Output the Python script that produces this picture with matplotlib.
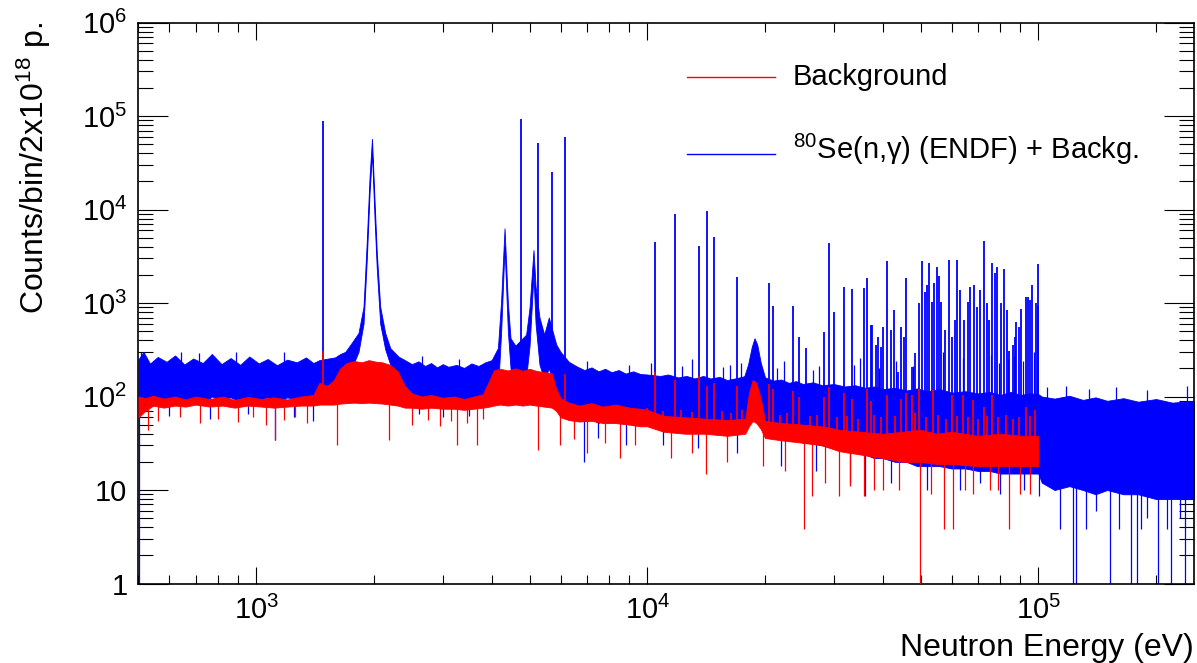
import matplotlib
matplotlib.use('Agg')
import matplotlib.pyplot as plt
import matplotlib.ticker as mticker
import numpy as np

plt.rcParams['font.family'] = ['Liberation Sans', 'DejaVu Sans']
plt.rcParams['mathtext.fontset'] = 'custom'
plt.rcParams['mathtext.rm'] = 'Liberation Sans'
plt.rcParams['mathtext.it'] = 'Liberation Sans:italic'
plt.rcParams['mathtext.bf'] = 'Liberation Sans:bold'

# --- 80Se(n,g) + background: envelope of the noisy band (eV, counts) ---
tot_e = [500, 515, 535, 560, 590, 620, 655, 690, 730, 770, 815, 860, 910, 960,
         1015, 1070, 1130, 1200, 1270, 1340, 1400, 1450, 1530, 1590, 1640, 1689,
         1753, 1826, 1881, 1918, 1949, 1977, 2007, 2034, 2075, 2137, 2201, 2312,
         2400, 2500, 2600, 2700, 2800, 2900, 3000, 3100, 3250, 3400, 3550, 3700,
         3850, 4000, 4150, 4230, 4315, 4400, 4470, 4600, 4900, 5000, 5117, 5180,
         5300, 5450, 5600, 5850, 6000, 6300, 6600, 6900, 7200, 7500, 7800, 8100,
         8450, 8800, 9200, 9600, 10000, 10800, 11300, 12000, 12600, 13200, 13900,
         14500, 15300, 16000, 17000, 17700, 18100, 18500, 18800, 19100, 19500,
         20000, 21000, 22000, 23000, 24000, 25000, 26500, 28000, 30000, 32000,
         34000, 36000, 38000, 40000, 43000, 46000, 49000, 52000, 56000, 60000,
         65000, 70000, 75000, 80000, 85000, 90000, 95000, 100000, 102000, 110000,
         120000, 130000, 140000, 150000, 165000, 180000, 200000, 220000, 250000]
tot_hi = [250, 300, 225, 265, 235, 275, 220, 255, 228, 285, 222, 258, 218, 268,
          226, 252, 216, 248, 232, 262, 228, 245, 255, 262, 285, 300,
          373, 478, 912, 4720, 22400, 57000, 12600, 3430, 912, 478, 330, 267,
          245, 222, 238, 212, 228, 205, 222, 208, 218, 202, 226, 212,
          232, 245, 330, 1080, 6300, 1000, 420, 350, 460, 900, 3690, 1500,
          700, 460, 700, 360, 300, 235, 210, 192, 205, 186, 198, 182,
          192, 176, 186, 174, 172, 166, 172, 160, 166, 156, 166,
          156, 162, 150, 158, 165, 220, 340, 420, 360, 230,
          160, 148, 152, 140, 146, 136, 142, 132, 136, 128,
          132, 124, 128, 120, 124, 116, 122, 114, 120, 110,
          114, 108, 112, 104, 112, 104, 108, 106, 100, 95,
          102, 92, 98, 90, 96, 88, 94, 86, 90]
tot_lo = [60, 75, 85, 95, 90, 100, 92, 98, 88, 100, 92, 98, 88, 100,
          92, 98, 88, 98, 92, 98, 96, 100, 110, 118, 135, 150,
          200, 300, 600, 3000, 15000, 40000, 8000, 2300, 600, 320, 220, 140,
          110, 100, 95, 92, 92, 88, 92, 88, 92, 86, 92, 88,
          92, 98, 115, 500, 4000, 500, 200, 130, 160, 350, 2000, 600,
          220, 150, 200, 110, 85, 65, 60, 55, 58, 52, 58, 55,
          55, 52, 50, 52, 50, 48, 48, 45, 46, 44, 45,
          44, 44, 42, 44, 45, 60, 100, 150, 110, 60,
          42, 38, 38, 35, 35, 32, 32, 30, 28, 26,
          25, 24, 22, 22, 20, 20, 18, 18, 18, 17,
          17, 16, 16, 15, 15, 15, 15, 15, 12, 10,
          11, 10, 9, 10, 9, 9, 8, 8, 8]

# narrow resonances of the total spectrum
res_e = [1483, 4740, 5240, 5700, 6150, 10470, 11800, 13530, 14200, 14820,
         16950, 20500, 20960, 23530, 24500, 25400, 28300, 29200, 30100, 31900,
         33300, 35900, 36400, 37300, 37600, 38400, 38900, 39600, 40100, 41100,
         42100, 42800, 43700, 44600, 45300, 45900, 47400, 48300, 49400, 50300,
         51200, 51900, 52400, 53400, 54200, 55000, 55800, 56500, 57600, 59100,
         60100, 61100, 62100, 63000, 64500, 66100, 67000, 68500, 69600, 70800,
         72600, 73700, 74700, 76200, 77500, 78200, 80300, 81700, 83100, 84300,
         85900, 87000, 87900, 89300, 90300, 92800, 93900, 95100, 96200, 98700,
         99700, 100000]
res_peak = [89000, 92000, 51000, 25400, 60100, 4530, 8900, 4080, 9700, 5050,
            1910, 1640, 930, 930, 437, 334, 490, 4420, 800, 1480,
            1430, 1450, 1870, 580, 580, 356, 430, 341, 550, 2840,
            514, 840, 184, 550, 437, 1870, 208, 290, 1000, 2840,
            1300, 1560, 2660, 1030, 1630, 2440, 1960, 1030, 514, 2890,
            437, 658, 2920, 1380, 658, 1030, 1490, 1540, 912, 1390,
            4650, 1000, 658, 2660, 2080, 2420, 993, 2340, 842, 305,
            360, 437, 625, 558, 860, 1170, 1150, 1077, 1540, 993,
            930, 2610]

# single-bin upward fluctuations of the total band
tot_up_e = [508, 643, 716, 886, 1175, 2650, 3300, 7000, 9000,
            10200, 12300, 13000, 15600, 16300, 17400, 21500, 22300, 26500,
            27500, 33800, 35000, 39200, 43300, 47900, 57000, 64000, 75500,
            79500, 83800, 86500, 91500, 97500,
            105000, 118000, 135000, 158000, 190000, 240000]
tot_up_v = [300, 300, 290, 300, 300, 270, 255, 240, 215,
            230, 210, 250, 205, 215, 230, 200, 240, 190,
            210, 220, 260, 200, 240, 210, 300, 260, 280,
            230, 250, 270, 240, 300,
            125, 130, 120, 125, 118, 128]

# downward fluctuations of the total band
tot_dip_e = [501, 600, 760, 950, 1114, 1250, 1400, 2600, 3000, 3500, 6900,
             7500, 8800, 11000, 13500, 17000, 22000, 27000, 33000, 36000,
             42000, 52000, 63000, 71000, 80000, 92000, 100500, 113800, 122700,
             124900, 132500, 140000, 152600, 160900, 173000, 178700, 183400,
             190000, 202000, 213500, 218000, 230000, 237600]
tot_dip_v = [0.5, 62, 58, 65, 34, 60, 55, 65, 60, 62, 20,
             36, 30, 30, 28, 25, 18, 16, 12, 8.6,
             12, 10, 10, 12, 9, 10, 8.6, 3.8, 0.5,
             0.5, 3.8, 6, 0.5, 3.8, 0.5, 0.5, 3.8,
             5, 0.5, 3.8, 0.5, 5, 0.5]

# --- background only ---
bkg_e = [500, 520, 545, 580, 620, 660, 700, 760, 820, 880, 950, 1030, 1110,
         1200, 1300, 1400, 1450, 1520, 1580, 1640, 1700, 1780, 1860, 1940, 2020,
         2100, 2200, 2300, 2400, 2500, 2650, 2800, 3000, 3200, 3400, 3600, 3800,
         3950, 4050, 4200, 4400, 4600, 4800, 5000, 5200, 5450, 5700, 5850, 6000,
         6300, 6700, 7200, 7700, 8300, 9000, 9600, 10000, 11000, 12500, 14000,
         16000, 17800, 18200, 18600, 19000, 19500, 20000, 22000, 25000, 28000,
         31000, 35000, 40000, 45000, 50000, 55000, 60000, 70000, 80000, 90000,
         100000]
bkg_hi = [100, 96, 102, 95, 100, 93, 100, 94, 100, 92, 99, 94, 98,
          93, 100, 104, 140, 130, 150, 200, 228, 240, 232, 245, 236,
          232, 218, 185, 130, 108, 100, 104, 97, 100, 94, 100, 106,
          150, 190, 198, 190, 200, 188, 198, 188, 182, 178, 120, 96,
          86, 80, 85, 78, 82, 76, 74, 72, 62, 60, 58,
          56, 58, 110, 150, 140, 95, 55, 52, 50, 48,
          44, 42, 40, 42, 44, 40, 42, 38, 40, 38,
          38]
bkg_lo = [60, 70, 80, 76, 80, 78, 82, 78, 80, 76, 80, 78, 76,
          78, 80, 80, 82, 82, 82, 84, 85, 86, 85, 86, 85,
          84, 82, 80, 76, 76, 74, 76, 74, 74, 72, 74, 76,
          78, 80, 82, 80, 82, 80, 82, 80, 78, 76, 70, 60,
          56, 54, 55, 52, 52, 50, 48, 48, 42, 40, 40,
          38, 40, 48, 55, 52, 45, 36, 34, 32, 30,
          26, 24, 22, 20, 20, 19, 19, 18, 18, 18,
          18]

bkg_spk_e = [1483, 6150, 10470, 11800, 13530, 14200, 14820, 16950, 20500, 20960,
             23530, 24500, 28300, 29200, 31900, 33300, 36400, 37300, 41100,
             44600, 45900, 47400, 49400, 53800, 60000, 64000, 68000, 72500,
             76000, 93000, 98000,
             10000, 11000, 12200, 13000, 15500, 16400, 17500, 19800, 21800,
             22700, 26000, 27200, 30500, 32500, 34500, 38000, 39500, 43000,
             48500, 51500, 55500, 58000, 62000, 66000, 70000, 74000, 79000,
             82500, 86000, 89000, 95000]
bkg_spk_v = [310, 176, 185, 150, 165, 130, 140, 128, 137, 120,
             115, 100, 100, 125, 110, 95, 120, 90, 105,
             95, 110, 104, 120, 117, 104, 104, 92, 77,
             104, 77, 72,
             75, 70, 72, 68, 70, 66, 72, 68, 64,
             66, 62, 64, 60, 62, 58, 64, 60, 62,
             66, 60, 64, 58, 62, 60, 58, 62, 60,
             64, 58, 60, 62]

bkg_dip_e = [530, 560, 640, 720, 800, 900, 980, 1060, 1118, 1180, 1260, 1350,
             1607, 2180, 2500, 2750, 2950, 3150, 3260, 3450, 3670, 3800, 5250,
             5985, 6500, 7000, 7800, 8500, 9300, 11500, 13000, 14100, 16000,
             19800, 22500, 25100, 26300, 28500, 31000, 33000, 35900, 38000,
             40000, 44000, 49800, 53000, 57500, 60600, 65000, 68000, 75000,
             79000, 84200, 90000, 95000]
bkg_dip_v = [44, 55, 60, 52, 58, 54, 60, 50, 34, 56, 60, 52,
             30, 34, 50, 56, 48, 55, 30, 52, 30, 58, 27,
             30, 35, 25, 32, 22, 30, 22, 25, 15, 20,
             18, 16, 3.8, 8.6, 12, 8.6, 11, 8.6, 10,
             10, 10, 0.5, 9, 3.8, 3.8, 10, 9, 10,
             10, 3.8, 9, 9]

BLUE = '#0000ff'
RED = '#ff0000'


def band_at(e, band_e, band_v):
    # geometric interpolation of a band edge, only used to attach spikes
    return 10 ** np.interp(np.log10(e), np.log10(band_e), np.log10(band_v))


fig = plt.figure(figsize=(11.97, 6.63), dpi=100)
ax = fig.add_axes([0.1157, 0.1199, 0.8818, 0.8461])

# total spectrum
ax.fill_between(tot_e, tot_lo, tot_hi, color=BLUE, lw=0.6, zorder=2)
ax.vlines(res_e, band_at(res_e, tot_e, tot_hi) * 0.8, res_peak,
          colors=BLUE, lw=1.3, zorder=2)
ax.vlines(tot_up_e, band_at(tot_up_e, tot_e, tot_hi) * 0.8, tot_up_v,
          colors=BLUE, lw=0.9, zorder=2)
ax.vlines(tot_dip_e, tot_dip_v, band_at(tot_dip_e, tot_e, tot_lo) * 1.2,
          colors=BLUE, lw=0.9, zorder=2)

# background
ax.fill_between(bkg_e, bkg_lo, bkg_hi, color=RED, lw=0.6, zorder=3)
ax.vlines(bkg_spk_e, band_at(bkg_spk_e, bkg_e, bkg_hi) * 0.8, bkg_spk_v,
          colors=RED, lw=1.2, zorder=3)
ax.vlines(bkg_dip_e, bkg_dip_v, band_at(bkg_dip_e, bkg_e, bkg_lo) * 1.2,
          colors=RED, lw=0.9, zorder=3)

ax.set_xscale('log')
ax.set_yscale('log')
ax.set_xlim(500, 2.5e5)
ax.set_ylim(1, 1e6)


def log_label(v, pos):
    k = int(round(np.log10(v)))
    if k == 0:
        return '1'
    if k == 1:
        return '10'
    return r'$\mathregular{10^{%d}}$' % k


ax.xaxis.set_major_locator(mticker.LogLocator(base=10, numticks=20))
ax.xaxis.set_minor_locator(mticker.LogLocator(base=10, subs=np.arange(2, 10), numticks=100))
ax.yaxis.set_major_locator(mticker.LogLocator(base=10, numticks=20))
ax.yaxis.set_minor_locator(mticker.LogLocator(base=10, subs=np.arange(2, 10), numticks=100))
ax.xaxis.set_major_formatter(mticker.FuncFormatter(log_label))
ax.yaxis.set_major_formatter(mticker.FuncFormatter(log_label))
ax.xaxis.set_minor_formatter(mticker.NullFormatter())
ax.yaxis.set_minor_formatter(mticker.NullFormatter())

ax.tick_params(which='both', direction='in', top=True, right=True,
               width=0.8, labelsize=21)
ax.tick_params(axis='y', which='major', length=21.6, pad=8)
ax.tick_params(axis='y', which='minor', length=10.8)
ax.tick_params(axis='x', which='major', length=12.2, pad=9)
ax.tick_params(axis='x', which='minor', length=6.5)
for s in ax.spines.values():
    s.set_linewidth(1.2)

ax.set_xlabel('Neutron Energy (eV)', loc='right', fontsize=23)
ax.xaxis.set_label_coords(1.0, -0.088)
ax.set_ylabel('Counts/bin/2x10$^{18}$ p.', loc='top', fontsize=23)
ax.yaxis.set_label_coords(-0.081, 1.0)

# legend (no frame, ROOT style)
ax.plot([0.5197, 0.603], [0.9034, 0.9034], color=RED, lw=1.0,
        transform=ax.transAxes, clip_on=False)
ax.text(0.620, 0.8886, 'Background', transform=ax.transAxes,
        fontsize=21, va='baseline', ha='left')
ax.plot([0.5197, 0.603], [0.7665, 0.7665], color=BLUE, lw=1.0,
        transform=ax.transAxes, clip_on=False)
ax.text(0.620, 0.7561, r'$^{80}$Se(n,γ) (ENDF) + Backg.', transform=ax.transAxes,
        fontsize=21, va='baseline', ha='left')

fig.savefig('out.png', dpi=100)
